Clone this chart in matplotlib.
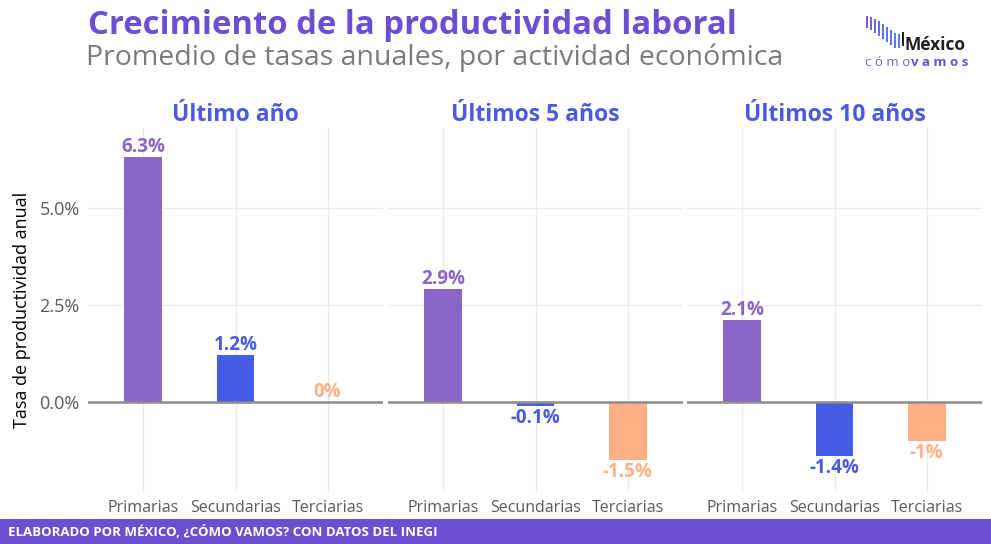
import matplotlib.pyplot as plt
from matplotlib.patches import Rectangle

plt.rcParams['font.family'] = ['Open Sans', 'DejaVu Sans']

# data
categorias = ['Primarias', 'Secundarias', 'Terciarias']
periodos = ['Último año', 'Últimos 5 años', 'Últimos 10 años']
ultimo_anio = [6.3, 1.2, 0.0]
ultimos_5 = [2.9, -0.1, -1.5]
ultimos_10 = [2.1, -1.4, -1.0]
series = [ultimo_anio, ultimos_5, ultimos_10]
yticks = [0.0, 2.5, 5.0]

# colors
colores = ['#8A64C6', '#465BE3', '#FFB085']
c_titulo = '#6A4FD6'
c_strip = '#4A5BE0'
c_gris = '#5A5A5A'


def fmt(v):
    s = f'{v:.1f}'.rstrip('0').rstrip('.')
    if s == '-0':
        s = '0'
    return s + '%'


fig = plt.figure(figsize=(9.91, 5.44), dpi=100)
W, H = 991, 544

lefts = [88, 388, 687]
x = list(range(len(categorias)))
for i, (left, vals, per) in enumerate(zip(lefts, series, periodos)):
    ax = fig.add_axes([left / W, 1 - 492 / H, 295 / W, 364 / H])
    ax.bar(x, vals, width=0.41, color=colores, zorder=2)
    ax.axhline(0, color='#8C8C8C', lw=1.8, zorder=3)
    ax.set_xlim(-0.6, 2.6)
    ax.set_ylim(-2.32, 7.06)
    ax.set_yticks(yticks)
    ax.set_xticks(x)
    ax.set_xticklabels(categorias, fontsize=11.5, color=c_gris)
    ax.grid(True, color='#EBEBEB', lw=1, zorder=0)
    ax.tick_params(length=0, pad=6)
    for s in ax.spines.values():
        s.set_visible(False)
    if i == 0:
        ax.set_yticklabels([f'{t:.1f}%' for t in yticks], fontsize=13, color=c_gris)
        ax.set_ylabel('Tasa de productividad anual', fontsize=13, color='black', labelpad=6)
    else:
        ax.set_yticklabels([])
    for xi, v, c in zip(x, vals, colores):
        if v >= 0:
            ax.text(xi, v + 0.0, fmt(v), ha='center', va='bottom', color=c,
                    fontsize=13.5, fontweight='bold')
        else:
            ax.text(xi, v - 0.05, fmt(v), ha='center', va='top', color=c,
                    fontsize=13.5, fontweight='bold')
    ax.set_title(per, fontsize=16.5, fontweight='bold', color=c_strip, pad=5)

# titles
fig.text(88 / W, 1 - 26 / H, 'Crecimiento de la productividad laboral', fontsize=23.7,
         fontweight='bold', color=c_titulo, va='center', ha='left')
fig.text(86 / W, 1 - 58 / H, 'Promedio de tasas anuales, por actividad económica',
         fontsize=20.5, color='#7A7A7A', va='center', ha='left')

# logo
logo_tops = [36, 35, 33, 31, 28, 25, 22, 19, 18, 20]
logo_bottoms = [24, 22, 19, 16, 13, 10, 7, 4, 4, 6]
logo_colores = ['#7B5BE0', '#7560E2', '#6E66E4', '#676CE6', '#6072E8',
                '#5A78EA', '#5A78EA', '#5A7CEB', '#5A80EC', '#222222']
lax = fig.add_axes([865 / W, 1 - 52 / H, 40 / W, 36 / H])
lax.bar(range(len(logo_tops)), [t - b for t, b in zip(logo_tops, logo_bottoms)],
        bottom=logo_bottoms, width=0.6, color=logo_colores)
lax.set_xlim(-0.5, len(logo_tops) - 0.5)
lax.set_ylim(0, 36)
lax.axis('off')
fig.text(905 / W, 1 - 45 / H, 'México', fontsize=12.5, fontweight='bold',
         color='#222222', va='center', ha='left')
fig.text(865 / W, 1 - 62 / H, 'c ó m o', fontsize=9.5, color='#7B5BE0',
         va='center', ha='left')
fig.text(911 / W, 1 - 62 / H, 'v a m o s', fontsize=9.5, fontweight='bold',
         color='#6A4FD6', va='center', ha='left')

# footer band
fig.patches.append(Rectangle((0, 0), 1, 25 / H, transform=fig.transFigure,
                             facecolor='#6A4FCF', edgecolor='none'))
fig.text(8 / W, 12 / H, 'ELABORADO POR MÉXICO, ¿CÓMO VAMOS? CON DATOS DEL INEGI',
         fontsize=9.5, fontweight='bold', color='white', va='center', ha='left')

fig.savefig('out.png', dpi=100)
